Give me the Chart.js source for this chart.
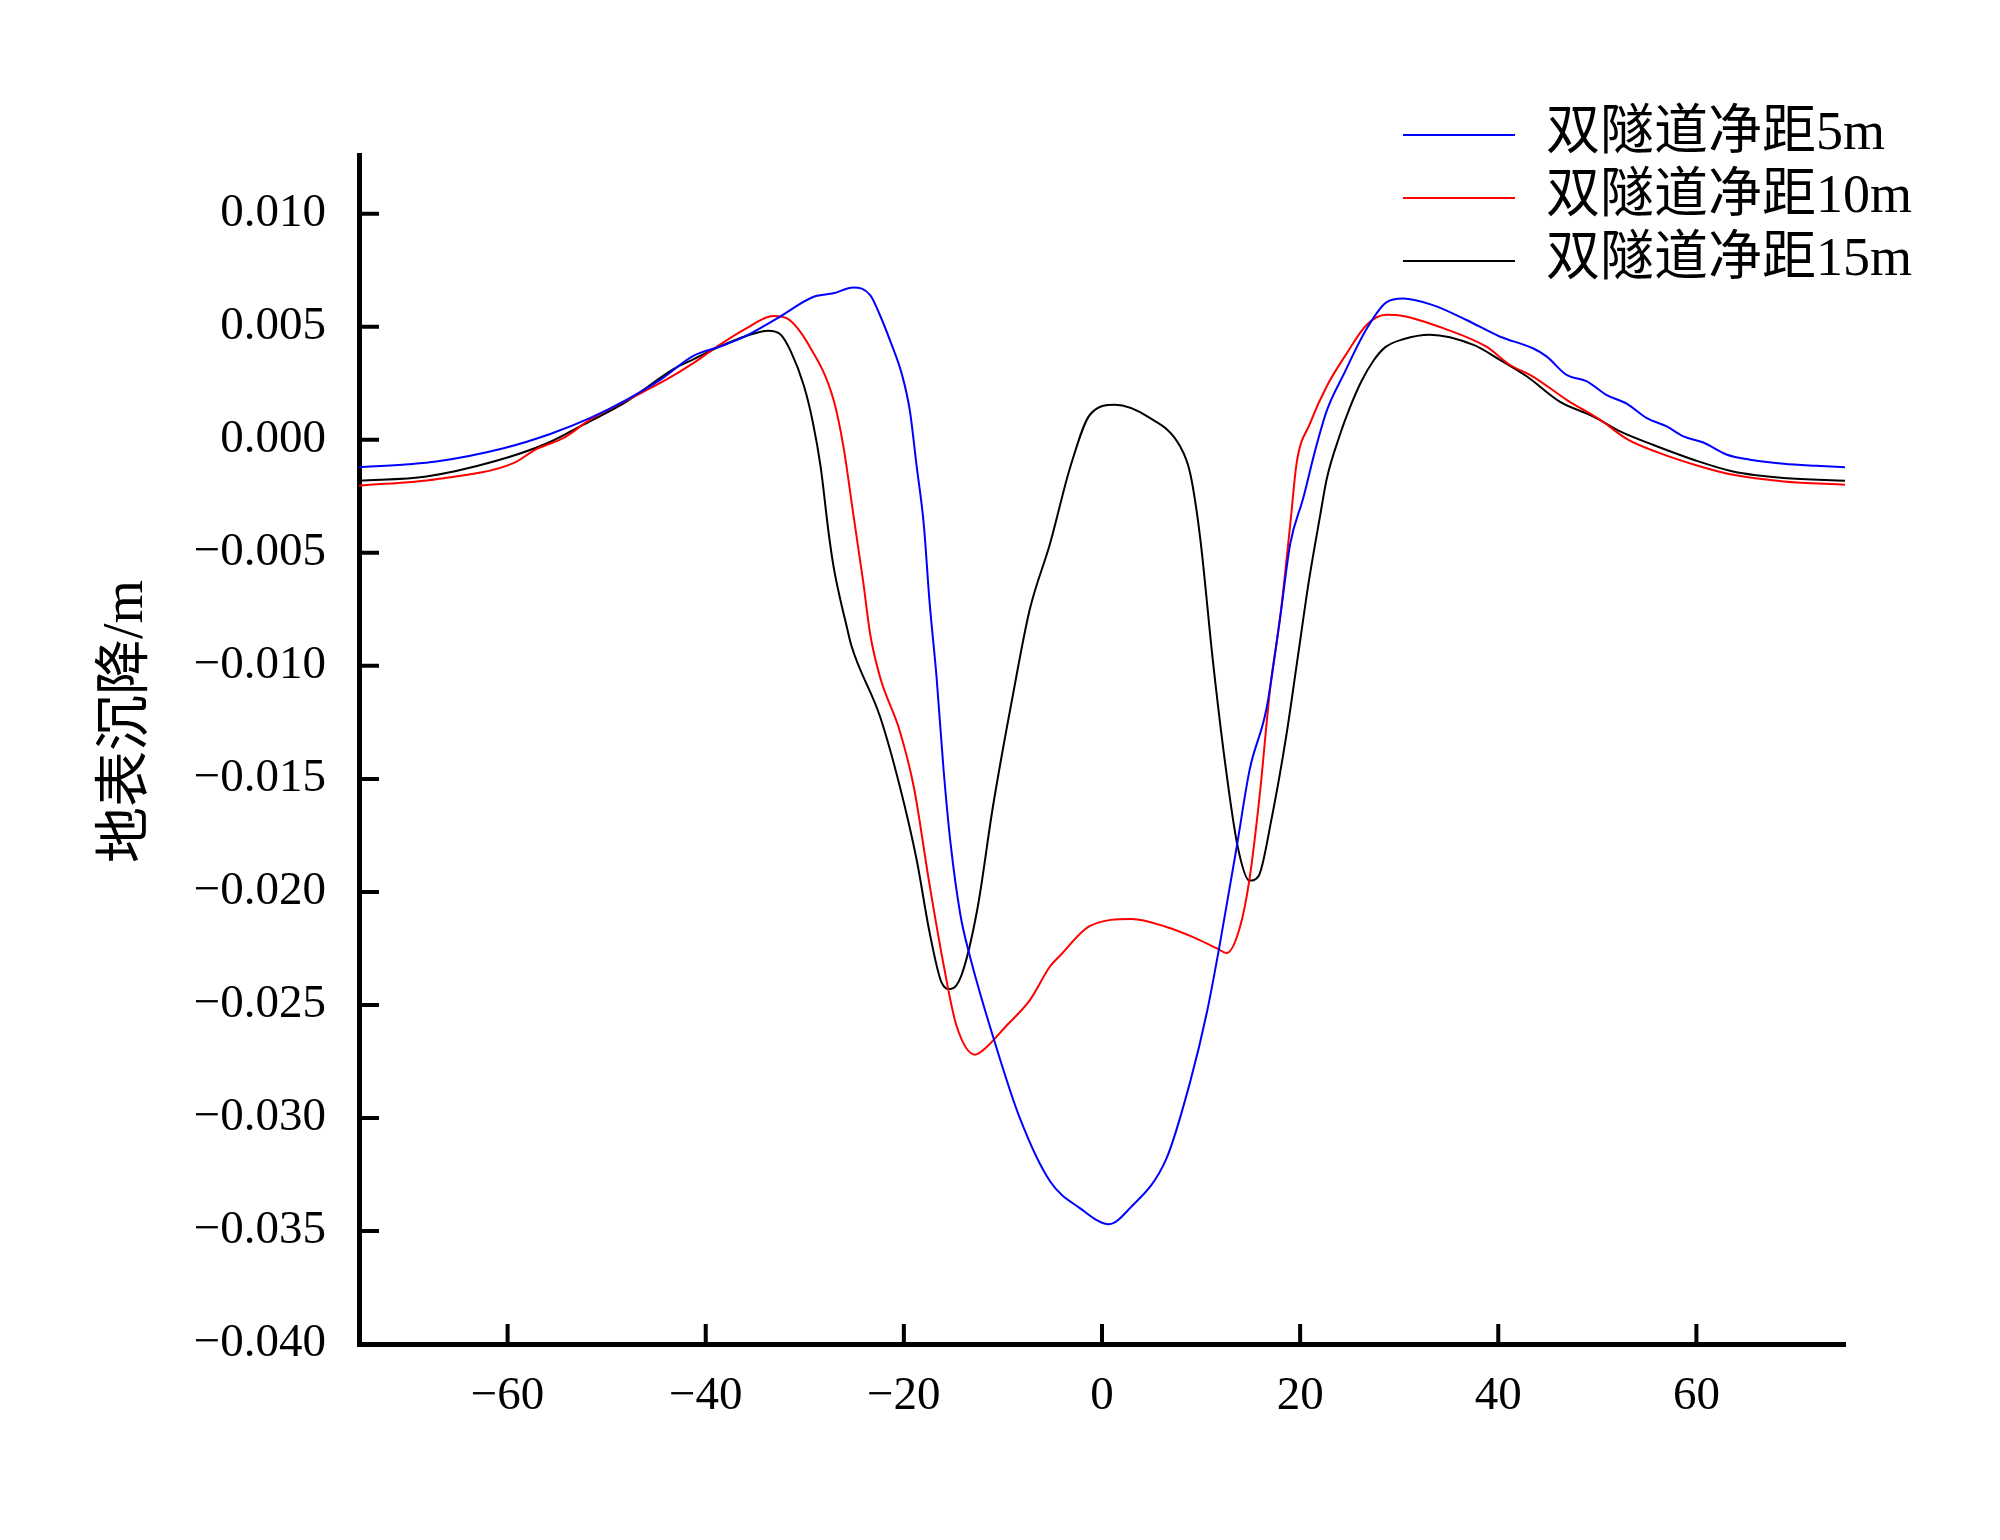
<!DOCTYPE html>
<html>
<head>
<meta charset="utf-8">
<title>地表沉降</title>
<script src="https://cdn.jsdelivr.net/npm/chart.js@4.4.1/dist/chart.umd.min.js"></script>
<style>
  html, body { margin: 0; padding: 0; background: #fff; }
  #settlementChart { display: block; }
</style>
</head>
<body>
<canvas id="settlementChart" width="2000" height="1540"></canvas>
<script>
const seriesNames = ['双隧道净距5m', '双隧道净距10m', '双隧道净距15m'];
const seriesColors = ['#0000ff', '#ff0000', '#000000'];

const xTicks = [-60, -40, -20, 0, 20, 40, 60];
const yTicks = [-0.04, -0.035, -0.03, -0.025, -0.02, -0.015, -0.01, -0.005, 0, 0.005, 0.01];

// 净距5m
const dist5 = [
  -75, -70, -67.2, -60.4, -55.7, -51.7, -48, -44.6, -41.25, -38.6, -36.2, -32.8,
  -29.1, -27.1, -25.1, -23.4, -22.4, -21.4, -20.2, -19.4, -18.7, -18, -17.4, -16.7,
  -16, -15.3, -14.3, -13.3, -11, -8.3, -5.25, -2.2, 0.7, 2.8, 6.5, 8.9, 10.6, 11.9,
  13.6, 14.9, 16.6, 18, 19, 20.3, 21.5, 22.7, 24.4, 26.7, 28.7, 30.4, 33.4, 36.8,
  40.2, 43.5, 44.9, 46.9, 48.9, 50.9, 53, 55, 57, 58.7, 60.7, 63.1, 65.4, 68.8, 72.1, 75
];
const settle5 = [
  -0.00121, -0.00108, -0.00096, -0.00037, 0.00026, 0.00096, 0.00177, 0.00265, 0.00371, 0.00412, 0.00454, 0.00537,
  0.00633, 0.00648, 0.00674, 0.0064, 0.0055, 0.0044, 0.0029, 0.0013, -0.0012, -0.0037, -0.0072, -0.0105,
  -0.01455, -0.0178, -0.021, -0.0229, -0.0264, -0.03, -0.0328, -0.034, -0.0347, -0.034, -0.0318, -0.0284, -0.0253, -0.0223,
  -0.018, -0.0146, -0.0119, -0.0078, -0.0046, -0.0026, -0.0005, 0.0013, 0.0029, 0.0049, 0.00608, 0.00625, 0.00596, 0.0053,
  0.00456, 0.00405, 0.00368, 0.00287, 0.0026, 0.00199, 0.00159, 0.00096, 0.00059, 0.00015, -0.00012, -0.00066, -0.00088, -0.00106, -0.00115, -0.00121
];

// 净距10m
const dist10 = [
  -75, -67.2, -59.4, -57.1, -54.4, -51.7, -48, -43.9, -41.25, -38.6, -35.9, -33.2,
  -31.8, -29.5, -27.1, -26.1, -25.1, -24.1, -23.4, -22.4, -20.4, -19, -17.4, -16,
  -14.7, -12.8, -12, -9.6, -7.3, -5.25, -4.2, -1.2, 3, 6.5, 9.2, 11.6, 12.6, 13.9,
  14.9, 15.9, 17, 18, 19, 19.65, 21, 22.7, 24.7, 26.7, 28.7, 30.4, 34.5, 38.8,
  41.2, 43.5, 46.9, 50.3, 53, 56.3, 60.4, 63.7, 68.8, 75
];
const settle10 = [
  -0.00203, -0.00174, -0.00103, -0.00041, 0.00007, 0.00088, 0.00174, 0.00268, 0.00339, 0.0042, 0.00493, 0.00548,
  0.00537, 0.00412, 0.00177, -0.0003, -0.0033, -0.0063, -0.0086, -0.0105, -0.0129, -0.01535, -0.0197, -0.0232,
  -0.0259, -0.0272, -0.027, -0.0259, -0.0248, -0.0233, -0.0228, -0.0215, -0.0212, -0.02155, -0.022, -0.0225, -0.0227, -0.0216,
  -0.0194, -0.0158, -0.0109, -0.0078, -0.00375, -0.00102, 0.00073, 0.00238, 0.00382, 0.00508, 0.00553, 0.00548, 0.00493, 0.00412,
  0.00331, 0.0028, 0.00177, 0.00088, 0.00003, -0.00059, -0.00118, -0.00155, -0.00184, -0.00199
];

// 净距15m
const dist15 = [
  -75, -68.2, -61.4, -56, -52.4, -48, -43.3, -41.25, -38.6, -35.9, -33.7, -32.5,
  -31.4, -30.1, -29.2, -28.4, -27.6, -27.1, -26.4, -25.8, -25.3, -22.4, -20.4,
  -18.7, -17.4, -16.2, -15.3, -14.2, -12.6, -11, -9, -7.3, -5.25, -3.2, -1.2, 1.3, 4.7,
  7.9, 8.9, 9.9, 11.2, 12.4, 13.7, 14.9, 15.8, 17.1, 18.6, 19.8, 20.9, 22, 22.7,
  24, 25, 26.2, 27.4, 28.6, 30.4, 33.1, 37.5, 40.2, 42.9, 46.2, 49.6, 52.3, 55.6, 59.7, 63.7, 68.8, 75
];
const settle15 = [
  -0.00181, -0.00162, -0.00096, -0.00015, 0.00066, 0.00169, 0.00312, 0.00356, 0.00412, 0.00459, 0.00483, 0.00468,
  0.0039, 0.0024, 0.0008, -0.0012, -0.0041, -0.0056, -0.0071, -0.0082, -0.0091, -0.01225, -0.01535,
  -0.0186, -0.0218, -0.024, -0.0243, -0.0237, -0.0208, -0.0162, -0.0113, -0.00752, -0.0046, -0.0012, 0.00112, 0.00155, 0.001,
  -0.0003, -0.00148, -0.0043, -0.0098, -0.0142, -0.018, -0.0195, -0.0193, -0.0168, -0.0131, -0.0095, -0.0062, -0.0034, -0.0017,
  0.0002, 0.0014, 0.0026, 0.0035, 0.0041, 0.00445, 0.00465, 0.0042, 0.00353, 0.0028, 0.00169, 0.00103, 0.00037, -0.00022, -0.00088, -0.0014, -0.00169, -0.00181
];

const serifFont = "'Liberation Serif', 'DejaVu Serif', serif";
const cjkFont = "'Liberation Serif', 'Noto Sans CJK SC', sans-serif";

const toPoints = (xs, ys) => xs.map((x, index) => ({ x, y: ys[index] }));

const formatTick = (value, digits) => {
  const text = Math.abs(value).toFixed(digits);
  return value < 0 ? `\u2212${text}` : text;
};

// ticks point into the plot, so they are drawn by hand
const inwardTicks = {
  id: 'inwardTicks',
  afterDraw: (chart) => {
    const { ctx, chartArea, scales } = chart;
    ctx.save();
    ctx.strokeStyle = '#000';
    ctx.lineWidth = 4;
    ctx.beginPath();
    scales.x.ticks.forEach((tick) => {
      const px = scales.x.getPixelForValue(tick.value);
      ctx.moveTo(px, chartArea.bottom);
      ctx.lineTo(px, chartArea.bottom - 20);
    });
    scales.y.ticks.forEach((tick) => {
      const py = scales.y.getPixelForValue(tick.value);
      ctx.moveTo(chartArea.left, py);
      ctx.lineTo(chartArea.left + 20, py);
    });
    ctx.stroke();
    ctx.restore();
  }
};

const lineLegend = {
  id: 'lineLegend',
  afterDraw: (chart) => {
    const { ctx } = chart;
    ctx.save();
    ctx.font = `54px ${cjkFont}`;
    ctx.textBaseline = 'middle';
    ctx.textAlign = 'left';
    chart.data.datasets.forEach((dataset, index) => {
      const rowY = 135 + index * 63;
      ctx.strokeStyle = dataset.borderColor;
      ctx.lineWidth = 2;
      ctx.beginPath();
      ctx.moveTo(1403, rowY);
      ctx.lineTo(1515, rowY);
      ctx.stroke();
      ctx.fillStyle = '#000';
      ctx.fillText(dataset.label, 1546, rowY);
    });
    ctx.restore();
  }
};

const renderChart = () => {
  const canvas = document.getElementById('settlementChart');
  const datasets = [
    toPoints(dist5, settle5),
    toPoints(dist10, settle10),
    toPoints(dist15, settle15)
  ].map((points, index) => ({
    label: seriesNames[index],
    data: points,
    borderColor: seriesColors[index],
    backgroundColor: seriesColors[index],
    borderWidth: 2,
    pointRadius: 0,
    cubicInterpolationMode: 'monotone',
    fill: false
  }));

  new Chart(canvas, {
    type: 'line',
    data: { datasets },
    plugins: [inwardTicks, lineLegend],
    options: {
      responsive: false,
      animation: false,
      devicePixelRatio: 1,
      layout: {
        padding: { left: 0, top: 155, right: 155, bottom: 0 }
      },
      plugins: {
        legend: { display: false },
        tooltip: { enabled: false }
      },
      scales: {
        x: {
          type: 'linear',
          min: -75,
          max: 75,
          afterBuildTicks: (scale) => {
            scale.ticks = xTicks.map((value) => ({ value }));
          },
          afterFit: (scale) => {
            scale.height = 196;
          },
          grid: { display: false },
          border: { display: true, color: '#000', width: 5 },
          ticks: {
            color: '#000',
            font: { family: serifFont, size: 47 },
            padding: 16,
            maxRotation: 0,
            callback: (value) => formatTick(value, 0)
          }
        },
        y: {
          type: 'linear',
          min: -0.04,
          max: 0.0126,
          afterBuildTicks: (scale) => {
            scale.ticks = yTicks.map((value) => ({ value }));
          },
          afterFit: (scale) => {
            scale.width = 359;
          },
          grid: { display: false },
          border: { display: true, color: '#000', width: 5 },
          title: {
            display: true,
            text: '\u3000地表沉降/m',
            color: '#000',
            font: { family: cjkFont, size: 56 },
            padding: { top: 94, bottom: 0 }
          },
          ticks: {
            color: '#000',
            font: { family: serifFont, size: 47 },
            padding: 25,
            callback: (value) => formatTick(value, 3)
          }
        }
      }
    }
  });
};

document.addEventListener('DOMContentLoaded', () => {
  renderChart();
});
</script>
</body>
</html>
